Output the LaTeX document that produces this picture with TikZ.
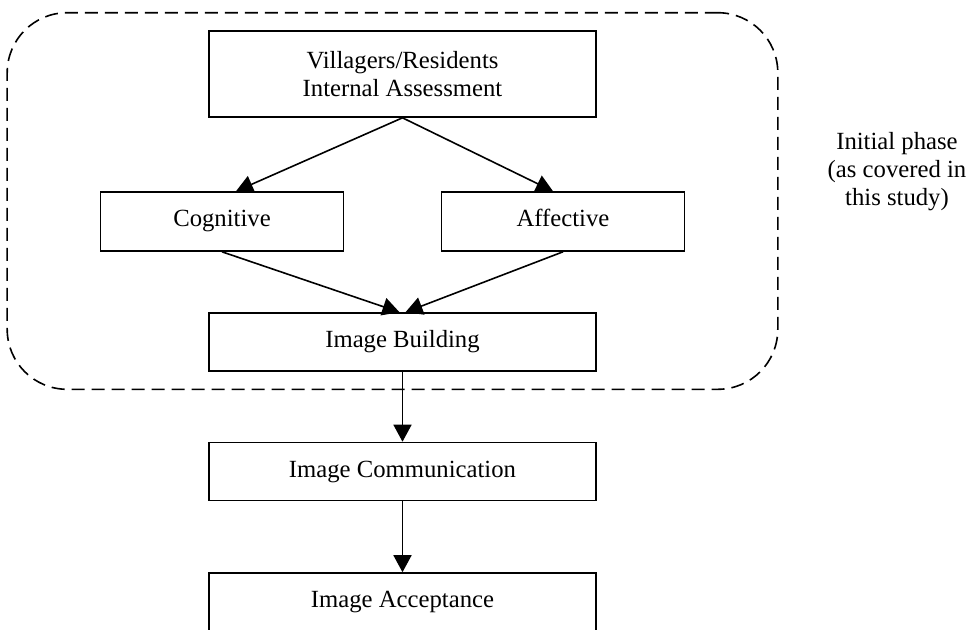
\documentclass[tikz,border=0pt]{standalone}
\usepackage{fontspec}
\setmainfont{Liberation Serif}
\usetikzlibrary{arrows.meta,positioning,fit}

\begin{document}
\begin{tikzpicture}[
    auto,
    >={Triangle[length=8.5pt,width=9pt]},
    font=\fontsize{12.35}{14}\selectfont,
    block/.style={
        draw,
        rectangle,
        minimum height=29pt,
        inner sep=0pt,
        align=center,
        thick
    },
    wide/.style={block, minimum width=193.5pt},
    small/.style={
        block,
        minimum width=121.5pt,
        minimum height=29.5pt,
        text height=0.7em,
        text depth=0.22em
    },
    frame/.style={
        draw,
        dash pattern=on 6.5pt off 3.5pt,
        thick,
        rounded corners=30pt,
        inner xsep=46.25pt,
        inner ysep=8.75pt
    },
    note/.style={align=center}
]

% Page
\useasboundingbox (-201.25pt,37pt) rectangle (283.75pt,-277.5pt);

% Nodes
\node [wide, minimum height=43pt] (assess) at (0,0) {Villagers/Residents\\Internal Assessment};
\node [small, below of=assess, node distance=73.75pt, xshift=-90.25pt] (cognitive) {Cognitive};
\node [small, below of=assess, node distance=73.75pt, xshift=80.25pt] (affective) {Affective};
\node [wide, below of=assess, node distance=134pt] (building) {Image Building};
\node [wide, below of=building, node distance=64.75pt] (communication) {Image Communication};
\node [wide, below of=communication, node distance=65.25pt] (acceptance) {Image Acceptance};

% Initial phase frame and note
\node [frame, fit=(assess)(cognitive)(affective)(building)] (phase) {};
\node [note, right of=assess, node distance=247.25pt, yshift=-49pt] (phasenote)
    {Initial phase\\(as covered in\\this study)};

% Arrows
\draw [->, thick] (assess.south) -- ([xshift=7pt]cognitive.north);
\draw [->, thick] (assess.south) -- ([xshift=-5pt]affective.north);
\draw [->, thick] (cognitive.south) -- ([xshift=-1.5pt]building.north);
\draw [->, thick] (affective.south) -- ([xshift=1.5pt]building.north);
\draw [->, thick] (building) -- (communication);
\draw [->, thick] (communication) -- (acceptance);

\end{tikzpicture}
\end{document}
